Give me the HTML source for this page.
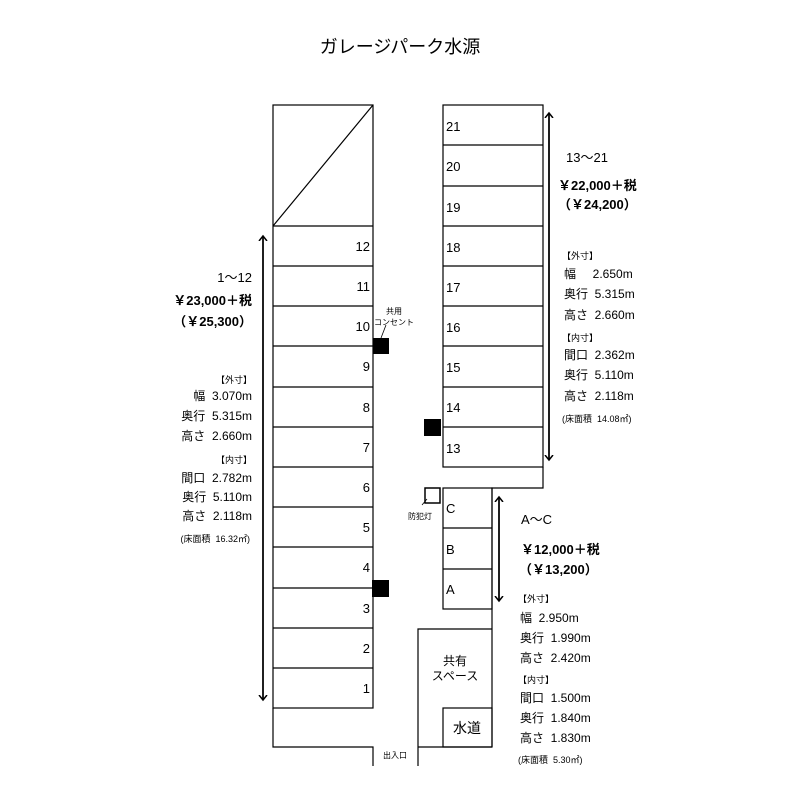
<!DOCTYPE html>
<html><head><meta charset="utf-8"><style>
html,body{margin:0;padding:0;background:#fff;}
svg text{font-family:"Liberation Sans","Noto Sans CJK JP",sans-serif;fill:#000;white-space:pre;}
</style></head><body>
<svg width="800" height="800" viewBox="0 0 800 800" xmlns="http://www.w3.org/2000/svg" xml:space="preserve">
<defs><marker id="ah" markerWidth="10" markerHeight="10" refX="5" refY="5" orient="auto" markerUnits="userSpaceOnUse"><path d="M0,1 L5,5 L0,9" fill="none" stroke="#000" stroke-width="1.5"/></marker></defs>
<text x="400" y="53" font-size="18" text-anchor="middle">ガレージパーク水源</text>
<g stroke="#000" stroke-width="1.2" fill="none">
<rect x="273" y="105" width="100" height="603"/>
<line x1="373" y1="105" x2="273" y2="226"/>
<line x1="273" y1="226" x2="373" y2="226"/>
<line x1="273" y1="266" x2="373" y2="266"/>
<line x1="273" y1="306" x2="373" y2="306"/>
<line x1="273" y1="346" x2="373" y2="346"/>
<line x1="273" y1="387" x2="373" y2="387"/>
<line x1="273" y1="427" x2="373" y2="427"/>
<line x1="273" y1="467" x2="373" y2="467"/>
<line x1="273" y1="507" x2="373" y2="507"/>
<line x1="273" y1="547" x2="373" y2="547"/>
<line x1="273" y1="588" x2="373" y2="588"/>
<line x1="273" y1="628" x2="373" y2="628"/>
<line x1="273" y1="668" x2="373" y2="668"/>
<polyline points="273,708 273,747 373,747 373,766"/>
<rect x="443" y="105" width="100" height="362"/>
<line x1="443" y1="145" x2="543" y2="145"/>
<line x1="443" y1="186" x2="543" y2="186"/>
<line x1="443" y1="226" x2="543" y2="226"/>
<line x1="443" y1="266" x2="543" y2="266"/>
<line x1="443" y1="306" x2="543" y2="306"/>
<line x1="443" y1="346" x2="543" y2="346"/>
<line x1="443" y1="387" x2="543" y2="387"/>
<line x1="443" y1="427" x2="543" y2="427"/>
<polyline points="543,467 543,488 492,488 492,747"/>
<rect x="443" y="488" width="49" height="121"/>
<line x1="443" y1="528" x2="492" y2="528"/>
<line x1="443" y1="569" x2="492" y2="569"/>
<polyline points="418,766 418,629 492,629"/>
<line x1="418" y1="747" x2="492" y2="747"/>
<rect x="443" y="708" width="49" height="39"/>
<line x1="386" y1="325" x2="381" y2="338" stroke-width="0.8"/>
<line x1="422" y1="505" x2="427" y2="499" stroke-width="0.8"/>
<rect x="425" y="488" width="15" height="15" stroke-width="1.5"/>
</g>
<rect x="373" y="338" width="16" height="16" fill="#000"/>
<rect x="424" y="419" width="17" height="17" fill="#000"/>
<rect x="372" y="580" width="17" height="17" fill="#000"/>
<g stroke="#000" stroke-width="1.5">
<line x1="263" y1="700" x2="263" y2="236" marker-end="url(#ah)"/>
<line x1="263" y1="236" x2="263" y2="700" marker-end="url(#ah)"/>
<line x1="549" y1="460" x2="549" y2="113" marker-end="url(#ah)"/>
<line x1="549" y1="113" x2="549" y2="460" marker-end="url(#ah)"/>
<line x1="499" y1="601" x2="499" y2="497" marker-end="url(#ah)"/>
<line x1="499" y1="497" x2="499" y2="601" marker-end="url(#ah)"/>
</g>
<g font-size="13" text-anchor="end">
<text x="370" y="251">12</text><text x="370" y="291">11</text><text x="370" y="331">10</text>
<text x="370" y="371">9</text><text x="370" y="412">8</text><text x="370" y="452">7</text>
<text x="370" y="492">6</text><text x="370" y="532">5</text><text x="370" y="572">4</text>
<text x="370" y="613">3</text><text x="370" y="653">2</text><text x="370" y="693">1</text>
</g>
<g font-size="13">
<text x="446" y="131">21</text><text x="446" y="171">20</text><text x="446" y="212">19</text>
<text x="446" y="252">18</text><text x="446" y="292">17</text><text x="446" y="332">16</text>
<text x="446" y="372">15</text><text x="446" y="412">14</text><text x="446" y="453">13</text>
<text x="446" y="513">C</text><text x="446" y="554">B</text><text x="446" y="594">A</text>
</g>
<text x="394" y="314" font-size="8" text-anchor="middle">共用</text>
<text x="394" y="325" font-size="8" text-anchor="middle">コンセント</text>
<text x="420" y="519" font-size="8" text-anchor="middle">防犯灯</text>
<text x="455" y="665" font-size="12" text-anchor="middle">共有</text>
<text x="455" y="680" font-size="12" text-anchor="middle">スペース</text>
<text x="467" y="733" font-size="14" text-anchor="middle">水道</text>
<text x="395" y="758" font-size="8" text-anchor="middle">出入口</text>
<g text-anchor="end" font-size="12">
<text x="252" y="282" font-size="13">1〜12</text>
<text x="252" y="305" font-size="13" font-weight="bold">￥23,000＋税</text>
<text x="252" y="326" font-size="13" font-weight="bold">（￥25,300）</text>
<text x="252" y="383" font-size="9">【外寸】</text>
<text x="252" y="400">幅  3.070m</text>
<text x="252" y="420">奥行  5.315m</text>
<text x="252" y="440">高さ  2.660m</text>
<text x="252" y="463" font-size="9">【内寸】</text>
<text x="252" y="482">間口  2.782m</text>
<text x="252" y="501">奥行  5.110m</text>
<text x="252" y="520">高さ  2.118m</text>
<text x="250" y="542" font-size="9">(床面積  16.32㎡)</text>
</g>
<g font-size="12">
<text x="566" y="162" font-size="13">13〜21</text>
<text x="558" y="190" font-size="13" font-weight="bold">￥22,000＋税</text>
<text x="558" y="209" font-size="13" font-weight="bold">（￥24,200）</text>
<text x="562" y="259" font-size="9">【外寸】</text>
<text x="564" y="278">幅     2.650m</text>
<text x="564" y="298">奥行  5.315m</text>
<text x="564" y="319">高さ  2.660m</text>
<text x="562" y="341" font-size="9">【内寸】</text>
<text x="564" y="359">間口  2.362m</text>
<text x="564" y="379">奥行  5.110m</text>
<text x="564" y="400">高さ  2.118m</text>
<text x="562" y="422" font-size="9">(床面積  14.08㎡)</text>
<text x="521" y="524" font-size="13">A〜C</text>
<text x="521" y="554" font-size="13" font-weight="bold">￥12,000＋税</text>
<text x="519" y="574" font-size="13" font-weight="bold">（￥13,200）</text>
<text x="518" y="602" font-size="9">【外寸】</text>
<text x="520" y="622">幅  2.950m</text>
<text x="520" y="642">奥行  1.990m</text>
<text x="520" y="662">高さ  2.420m</text>
<text x="518" y="683" font-size="9">【内寸】</text>
<text x="520" y="702">間口  1.500m</text>
<text x="520" y="722">奥行  1.840m</text>
<text x="520" y="742">高さ  1.830m</text>
<text x="518" y="763" font-size="9">(床面積  5.30㎡)</text>
</g>
</svg>
</body></html>
